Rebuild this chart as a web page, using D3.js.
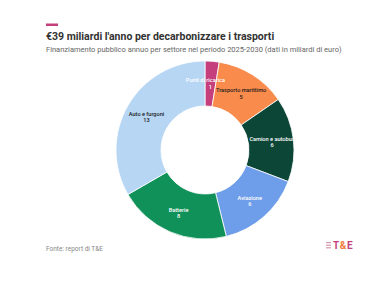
<!DOCTYPE html>
<html>
<head>
<meta charset="utf-8">
<script src="https://cdn.jsdelivr.net/npm/d3@7"></script>
<style>
body { margin: 0; background: #fff; }
text { font-family: Roboto, "Noto Sans", sans-serif; }
</style>
</head>
<body>
<svg width="392" height="300"></svg>
<script>
// data
var sectors = ["Punti di ricarica", "Trasporto marittimo", "Camion e autobus", "Aviazione", "Batterie", "Auto e furgoni"];
var values = [1, 5, 6, 6, 8, 13];
var colors = ["#c43f7c", "#f98c4d", "#0b4637", "#6e9de9", "#0f9159", "#b6d6f4"];
var labelColors = ["#fff", "#1a1a1a", "#fff", "#fff", "#fff", "#1a1a1a"];

var svg = d3.select("svg");

// accent bar + titles
svg.append("rect").attr("x", 46).attr("y", 23.5).attr("width", 12).attr("height", 2.5).attr("fill", "#c43f7c");
svg.append("text").attr("x", 46).attr("y", 39.5)
    .style("font-size", "10.5px").style("font-weight", "bold").attr("fill", "#333")
    .text("€39 miliardi l'anno per decarbonizzare i trasporti");
svg.append("text").attr("x", 46).attr("y", 51.5)
    .style("font-size", "7.5px").attr("fill", "#666")
    .text("Finanziamento pubblico annuo per settore nel periodo 2025-2030 (dati in miliardi di euro)");

var cx = 205, cy = 150, outerR = 89, innerR = 44;
var data = sectors.map(function (s, i) { return { name: s, value: values[i], color: colors[i], lc: labelColors[i] }; });

var pie = d3.pie().sort(null).value(function (d) { return d.value; });
var arc = d3.arc().innerRadius(innerR).outerRadius(outerR);
var labelArc = d3.arc().innerRadius((innerR + outerR) / 2 + 1).outerRadius((innerR + outerR) / 2 + 1);

var chart = svg.append("g").attr("transform", "translate(" + cx + "," + cy + ")");

chart.selectAll("path")
    .data(pie(data))
    .enter()
    .append("path")
    .attr("d", arc)
    .attr("fill", function (d) { return d.data.color; })
    .attr("stroke", "#fff")
    .attr("stroke-width", 0.8);

var labels = chart.selectAll(".lbl")
    .data(pie(data))
    .enter()
    .append("text")
    .attr("class", "lbl")
    .attr("text-anchor", "middle")
    .attr("transform", function (d) {
        var c = labelArc.centroid(d);
        if (d.index === 0) c = [c[0], -outerR + 22];
        return "translate(" + c[0] + "," + c[1] + ")";
    })
    .style("font-size", "5.6px")
    .style("font-weight", "500")
    .attr("fill", function (d) { return d.data.lc; });

labels.append("tspan").attr("x", function (d) { return d.index === 0 ? -5 : 0; })
    .attr("dy", "-0.1em").text(function (d) { return d.data.name; });
labels.append("tspan").attr("x", 0).attr("dy", "1.1em").text(function (d) { return d.data.value; });

// footer
svg.append("text").attr("x", 46).attr("y", 251)
    .style("font-size", "6.5px").attr("fill", "#888")
    .text("Fonte: report di T&E");

var logo = svg.append("text").attr("x", 333).attr("y", 249)
    .style("font-size", "10px").style("font-weight", "bold").style("letter-spacing", "0.6px");
logo.append("tspan").attr("fill", "#c43f7c").text("T");
logo.append("tspan").attr("fill", "#f07a3a").text("&");
logo.append("tspan").attr("fill", "#c43f7c").text("E");
svg.append("g").selectAll("rect").data([0, 1, 2]).enter().append("rect")
    .attr("x", 326).attr("y", function (d) { return 242 + d * 2.6; })
    .attr("width", 5).attr("height", 1.2).attr("fill", "#d99ab0");
</script>
</body>
</html>
